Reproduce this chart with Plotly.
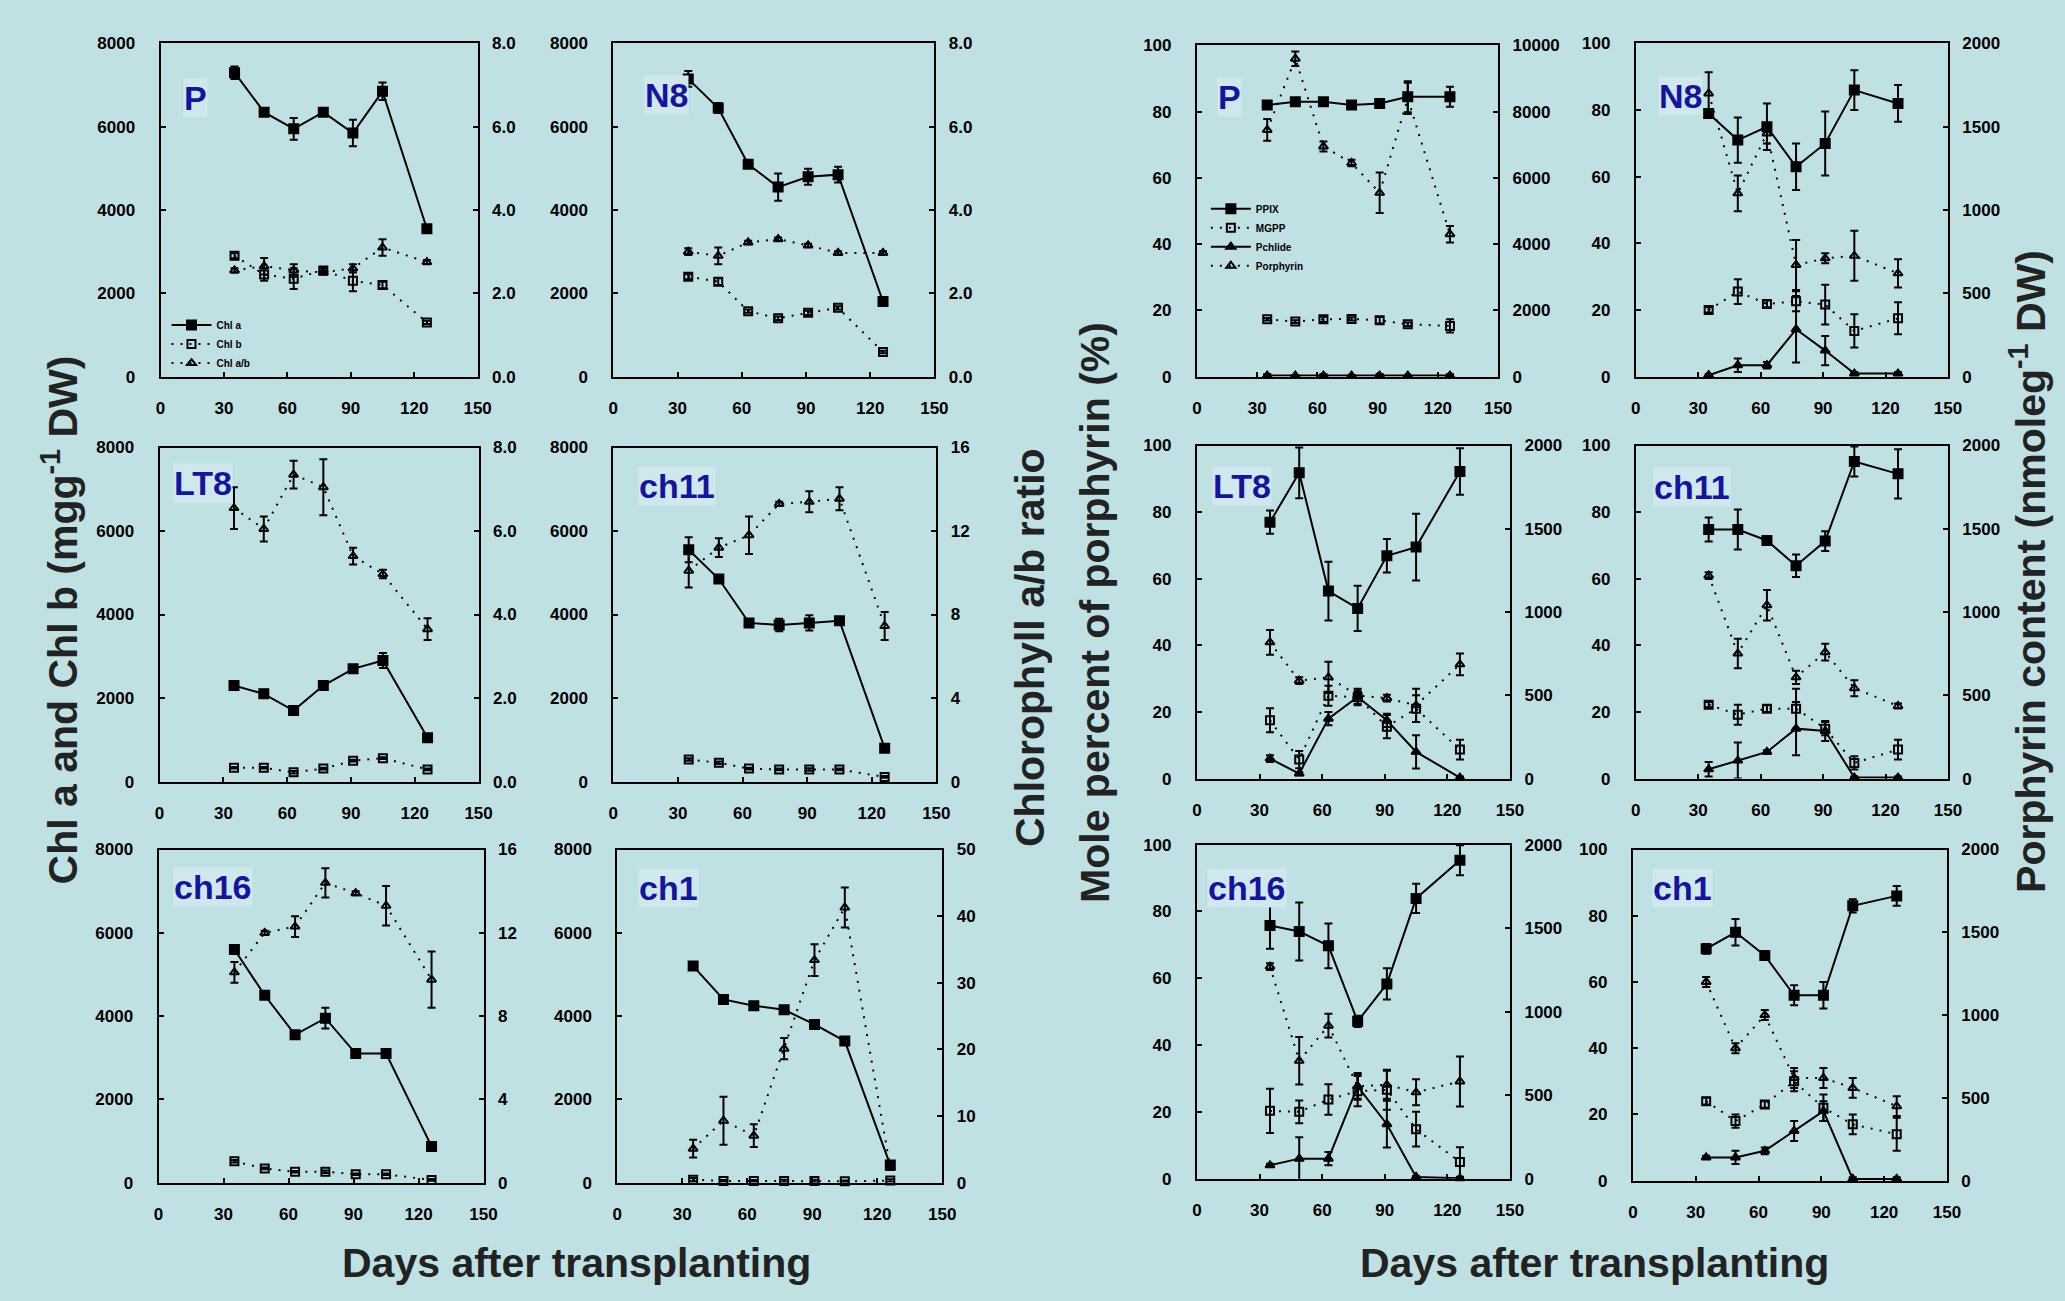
import plotly.graph_objects as go

W, H = 2065, 1301
BG = "#bfe1e4"
FONT = "Liberation Sans, Arial, sans-serif"

days = [35, 49, 63, 77, 91, 105, 126]
x_ticks = [0, 30, 60, 90, 120, 150]

# ---------- Chlorophyll panels (left group) ----------
P_chla = [7300, 6350, 5950, 6350, 5850, 6850, 3550]
P_chla_err = [150, 50, 260, 50, 320, 210, 50]
P_chlb = [2900, 2450, 2350, 2550, 2300, 2200, 1300]
P_chlb_err = [60, 150, 250, 60, 250, 80, 40]
P_ratio = [2.55, 2.65, 2.55, 2.5, 2.6, 3.1, 2.75]
P_ratio_err = [0.05, 0.2, 0.15, 0.05, 0.1, 0.2, 0.05]

N8_chla = [7150, 6450, 5100, 4550, 4800, 4850, 1800]
N8_chla_err = [190, 120, 50, 330, 190, 190, 60]
N8_chlb = [2400, 2280, 1570, 1400, 1530, 1650, 590]
N8_chlb_err = [60, 80, 40, 40, 50, 40, 30]
N8_ratio = [3.0, 2.9, 3.22, 3.3, 3.15, 2.97, 2.97]
N8_ratio_err = [0.08, 0.2, 0.04, 0.04, 0.04, 0.04, 0.04]

LT8_chla = [2300, 2100, 1700, 2300, 2700, 2900, 1050]
LT8_chla_err = [50, 100, 40, 50, 50, 180, 50]
LT8_chlb = [330, 330, 220, 310, 500, 560, 290]
LT8_chlb_err = [20, 20, 30, 20, 20, 20, 20]
LT8_ratio = [6.55, 6.05, 7.35, 7.05, 5.4, 4.97, 3.65]
LT8_ratio_err = [0.5, 0.3, 0.33, 0.67, 0.2, 0.1, 0.26]

ch11_chla = [5550, 4850, 3800, 3750, 3800, 3850, 800]
ch11_chla_err = [300, 80, 40, 150, 180, 50, 40]
ch11_chlb = [530, 450, 310, 290, 290, 290, 110]
ch11_chlb_err = [30, 30, 20, 20, 30, 20, 20]
ch11_ratio = [10.1, 11.2, 11.8, 13.3, 13.4, 13.55, 7.45]
ch11_ratio_err = [0.8, 0.45, 0.9, 0.1, 0.5, 0.55, 0.67]

ch16_chla = [5600, 4500, 3550, 3950, 3100, 3100, 870]
ch16_chla_err = [50, 50, 60, 250, 40, 40, 40]
ch16_chlb = [510, 340, 260, 260, 200, 200, 65]
ch16_chlb_err = [30, 20, 20, 30, 20, 20, 20]
ch16_ratio = [10.1, 12.0, 12.3, 14.4, 13.9, 13.3, 9.75]
ch16_ratio_err = [0.5, 0.1, 0.5, 0.7, 0.1, 0.95, 1.35]

ch1_chla = [5200, 4400, 4250, 4150, 3800, 3400, 420]
ch1_chla_err = [40, 50, 50, 80, 80, 50, 80]
ch1_chlb = [70, 40, 40, 40, 40, 30, 50]
ch1_chlb_err = [40, 20, 20, 30, 30, 20, 30]
ch1_ratio = [5.1, 9.3, 7.05, 20.1, 33.4, 41.3, 2.2]
ch1_ratio_err = [1.35, 3.6, 1.7, 1.6, 2.4, 3.0, 0.3]

# ---------- Porphyrin panels (right group) ----------
P_ppix = [82, 83, 83, 82, 82.5, 84.5, 84.5]
P_ppix_err = [0.5, 0.5, 1, 0.5, 1, 4.7, 3]
P_mgpp = [17.3, 16.6, 17.3, 17.4, 17.0, 15.8, 15.3]
P_mgpp_err = [0.4, 0.4, 0.8, 0.5, 1, 0.5, 2]
P_pchl = [0.3, 0.3, 0.3, 0.3, 0.3, 0.3, 0.3]
P_pchl_err = [0.5, 0.2, 0.5, 0.2, 0.5, 0.2, 0.5]
P_porph = [7450, 9600, 6950, 6450, 5550, 8400, 4300]
P_porph_err = [330, 220, 150, 100, 610, 470, 250]

N8_ppix = [79, 71, 75, 63, 70, 86, 82]
N8_ppix_err = [1, 6.8, 7, 7, 9.6, 6, 5.5]
N8_mgpp = [20, 25.5, 21.8, 22.6, 21.6, 13.7, 17.5]
N8_mgpp_err = [0.8, 3.7, 1, 3, 6, 5, 4.8]
N8_pchl = [0.4, 3.4, 3.4, 14.2, 7.8, 0.9, 0.9]
N8_pchl_err = [0.3, 2, 1, 10, 4.4, 0.5, 0.5]
N8_porph = [1700, 1100, 1460, 670, 710, 725, 620]
N8_porph_err = [128, 107, 60, 150, 30, 150, 85]

LT8_ppix = [77, 91.8, 56.3, 51.1, 66.9, 69.5, 92.2]
LT8_ppix_err = [3.5, 7.6, 8.8, 6.8, 5, 10, 7]
LT8_mgpp = [17.5, 5.7, 24.9, 24.4, 15.6, 21, 8.7]
LT8_mgpp_err = [3.6, 2.6, 3, 2, 3.5, 4, 3]
LT8_pchl = [6, 1.5, 18, 24.5, 17.5, 8, 0.3]
LT8_pchl_err = [1, 0.5, 2, 2.5, 2, 5, 0.3]
LT8_porph = [818, 588, 608, 499, 483, 440, 686]
LT8_porph_err = [74, 20, 94, 20, 20, 100, 65]

ch11_ppix = [74.8, 74.8, 71.5, 63.9, 71.3, 95.2, 91.5]
ch11_ppix_err = [3.6, 6, 1, 3.4, 3, 4.5, 7.4]
ch11_mgpp = [22.2, 19.2, 21, 21, 15, 4.7, 8.7]
ch11_mgpp_err = [0.8, 3, 1, 6, 2, 2, 3]
ch11_pchl = [2.8, 5.4, 8, 15, 14.3, 0.3, 0.3]
ch11_pchl_err = [2.2, 5.4, 0.5, 8, 3, 0.3, 0.3]
ch11_porph = [1219, 751, 1041, 608, 759, 543, 436]
ch11_porph_err = [20, 89, 92, 40, 50, 48, 15]

ch16_ppix = [75.8, 74, 69.7, 47.1, 58.3, 83.9, 95.3]
ch16_ppix_err = [7, 8.7, 6.7, 1.7, 4.7, 4.4, 4.5]
ch16_mgpp = [20.3, 20, 23.7, 26.2, 26.6, 14.8, 5]
ch16_mgpp_err = [6.6, 3.4, 4.6, 4.5, 6, 5.2, 4.4]
ch16_pchl = [4, 6, 6, 27.6, 16.3, 0.5, 0.1]
ch16_pchl_err = [0.5, 6.4, 2, 3.7, 7, 0.3, 0.2]
ch16_porph = [1270, 706, 916, 553, 562, 517, 582]
ch16_porph_err = [20, 142, 71, 80, 84, 78, 150]

ch1_ppix = [70, 75, 68, 56, 56, 83, 86]
ch1_ppix_err = [1.5, 4, 1, 3, 4, 2, 3]
ch1_mgpp = [24, 18, 23, 30, 22, 17, 14]
ch1_mgpp_err = [1, 2, 1, 3, 4, 3, 5]
ch1_pchl = [7, 7, 9, 15, 21, 0.5, 0.5]
ch1_pchl_err = [0.5, 2, 1, 3, 3, 0.5, 0.5]
ch1_porph = [1200, 800, 1000, 620, 620, 560, 450]
ch1_porph_err = [30, 30, 30, 60, 60, 60, 60]

chl_names = ["Chl a", "Chl b", "Chl a/b"]
por_names = ["PPIX", "MGPP", "Pchlide", "Porphyrin"]

ratio8_vals = [0, 2, 4, 6, 8]
ratio8_text = ["0.0", "2.0", "4.0", "6.0", "8.0"]
ratio16_vals = [0, 4, 8, 12, 16]
ratio50_vals = [0, 10, 20, 30, 40, 50]
chl_left_vals = [0, 2000, 4000, 6000, 8000]
mol_vals = [0, 20, 40, 60, 80, 100]
cont10k_vals = [0, 2000, 4000, 6000, 8000, 10000]
cont2k_vals = [0, 500, 1000, 1500, 2000]

# panel table: label, box (x0, x1, y0, y1 in px), label offset, kind, series, right axis
panels = [
    ("P", (157, 477, 35, 373), (23, 55), "chl",
     [(P_chla, P_chla_err), (P_chlb, P_chlb_err), (P_ratio, P_ratio_err)], (8, ratio8_vals, ratio8_text)),
    ("N8", (614, 938, 35, 373), (31, 52), "chl",
     [(N8_chla, N8_chla_err), (N8_chlb, N8_chlb_err), (N8_ratio, N8_ratio_err)], (8, ratio8_vals, ratio8_text)),
    ("LT8", (156, 478, 445, 784), (14, 36), "chl",
     [(LT8_chla, LT8_chla_err), (LT8_chlb, LT8_chlb_err), (LT8_ratio, LT8_ratio_err)], (8, ratio8_vals, ratio8_text)),
    ("ch11", (614, 940, 445, 784), (25, 39), "chl",
     [(ch11_chla, ch11_chla_err), (ch11_chlb, ch11_chlb_err), (ch11_ratio, ch11_ratio_err)], (16, ratio16_vals, None)),
    ("ch16", (155, 483, 853, 1191), (15, 38), "chl",
     [(ch16_chla, ch16_chla_err), (ch16_chlb, ch16_chlb_err), (ch16_ratio, ch16_ratio_err)], (16, ratio16_vals, None)),
    ("ch1", (618, 946, 853, 1191), (21, 39), "chl",
     [(ch1_chla, ch1_chla_err), (ch1_chlb, ch1_chlb_err), (ch1_ratio, ch1_ratio_err)], (50, ratio50_vals, None)),
    ("P", (1203, 1507, 37, 373), (20, 52), "por",
     [(P_ppix, P_ppix_err), (P_mgpp, P_mgpp_err), (P_pchl, P_pchl_err), (P_porph, P_porph_err)], (10000, cont10k_vals, None)),
    ("N8", (1646, 1961, 35, 373), (22, 53), "por",
     [(N8_ppix, N8_ppix_err), (N8_mgpp, N8_mgpp_err), (N8_pchl, N8_pchl_err), (N8_porph, N8_porph_err)], (2000, cont2k_vals, None)),
    ("LT8", (1203, 1519, 443, 781), (15, 41), "por",
     [(LT8_ppix, LT8_ppix_err), (LT8_mgpp, LT8_mgpp_err), (LT8_pchl, LT8_pchl_err), (LT8_porph, LT8_porph_err)], (2000, cont2k_vals, None)),
    ("ch11", (1646, 1961, 443, 781), (17, 42), "por",
     [(ch11_ppix, ch11_ppix_err), (ch11_mgpp, ch11_mgpp_err), (ch11_pchl, ch11_pchl_err), (ch11_porph, ch11_porph_err)], (2000, cont2k_vals, None)),
    ("ch16", (1203, 1519, 848, 1187), (10, 44), "por",
     [(ch16_ppix, ch16_ppix_err), (ch16_mgpp, ch16_mgpp_err), (ch16_pchl, ch16_pchl_err), (ch16_porph, ch16_porph_err)], (2000, cont2k_vals, None)),
    ("ch1", (1643, 1960, 853, 1189), (19, 39), "por",
     [(ch1_ppix, ch1_ppix_err), (ch1_mgpp, ch1_mgpp_err), (ch1_pchl, ch1_pchl_err), (ch1_porph, ch1_porph_err)], (2000, cont2k_vals, None)),
]

DOT = "2px,7px"
styles_chl = [
    dict(dash="solid", symbol="square", size=9, right=False),
    dict(dash=DOT, symbol="square-open", size=8, right=False),
    dict(dash=DOT, symbol="triangle-up-open", size=8, right=True),
]
styles_por = [
    dict(dash="solid", symbol="square", size=9, right=False),
    dict(dash=DOT, symbol="square-open", size=8, right=False),
    dict(dash="solid", symbol="triangle-up", size=8, right=False),
    dict(dash=DOT, symbol="triangle-up-open", size=8, right=True),
]

tickfont = dict(family=FONT, size=17, color="black", weight="bold")
axis_common = dict(showline=True, linecolor="black", linewidth=2, ticks="inside",
                   ticklen=5, tickwidth=2, tickcolor="black", showgrid=False,
                   zeroline=False, tickfont=tickfont)

fig = go.Figure()
layout = {}
annotations = []

for i, (label, box, loff, kind, series, rax) in enumerate(panels, start=1):
    x0, x1, y0, y1 = box
    xname = "x" if i == 1 else f"x{i}"
    yl = "y" if i == 1 else f"y{i}"
    yr = f"y{i + 12}"
    xd = [x0 / W, x1 / W]
    yd = [1 - y1 / H, 1 - y0 / H]
    layout["xaxis" if i == 1 else f"xaxis{i}"] = dict(
        axis_common, domain=xd, anchor=yl, range=[0, 150], tickvals=x_ticks,
        mirror=True, ticklabelstandoff=15)
    if kind == "chl":
        lvals, lmax = chl_left_vals, 8000
    else:
        lvals, lmax = mol_vals, 100
    layout["yaxis" if i == 1 else f"yaxis{i}"] = dict(
        axis_common, domain=yd, anchor=xname, range=[0, lmax], tickvals=lvals,
        ticklabelstandoff=20)
    rmax, rvals, rtext = rax
    if rtext is None:
        rtext = [str(v) for v in rvals]
    layout[f"yaxis{i + 12}"] = dict(
        axis_common, anchor=xname, overlaying=yl, side="right",
        range=[0, rmax], tickvals=rvals, ticktext=rtext, ticklabelstandoff=9)

    styles = styles_chl if kind == "chl" else styles_por
    names = chl_names if kind == "chl" else por_names
    legend_id = "legend" if kind == "chl" else "legend2"
    show = (label == "P")
    for (vals, errs), st, nm in zip(series, styles, names):
        fig.add_trace(go.Scatter(
            x=days, y=vals, name=nm, mode="lines+markers",
            xaxis=xname, yaxis=(yr if st["right"] else yl),
            line=dict(color="black", width=2, dash=st["dash"]),
            marker=dict(symbol=st["symbol"], size=st["size"], color="black",
                        line=dict(color="black", width=2)),
            error_y=dict(type="data", array=errs, visible=True, color="black",
                         thickness=2, width=4),
            cliponaxis=False, showlegend=show, legend=legend_id,
        ))
    annotations.append(dict(
        text=label, xref="paper", yref="paper", x=(x0 + loff[0]) / W,
        y=1 - (y0 + loff[1]) / H, xanchor="left", yanchor="middle", showarrow=False,
        font=dict(family=FONT, size=34, color="#1414a0", weight="bold"),
        bgcolor="#cfe8ee", borderpad=0))

title_font = dict(family=FONT, size=41, color="#222222", weight="bold")
titles = [
    ("Chl a and Chl b (mgg<sup>-1</sup> DW)", 55, 620, -90),
    ("Chlorophyll a/b ratio", 1034, 648, -90),
    ("Mole percent of porphyrin (%)", 1100, 612, -90),
    ("Porphyrin content (nmoleg<sup>-1</sup> DW)", 2041, 571, -90),
    ("Days after transplanting", 577, 1273, 0),
    ("Days after transplanting", 1604, 1273, 0),
]
for txt, tx, ty, ang in titles:
    annotations.append(dict(text=txt, xref="paper", yref="paper", x=tx / W,
                            y=1 - ty / H, xanchor="center", yanchor="middle",
                            textangle=ang, showarrow=False, font=title_font))

legend_font = dict(family=FONT, size=10, color="black", weight="bold")
fig.update_layout(
    width=W, height=H, margin=dict(l=0, r=0, t=0, b=0),
    paper_bgcolor=BG, plot_bgcolor=BG,
    annotations=annotations,
    legend=dict(x=163 / W, y=1 - 306 / H, xanchor="left", yanchor="top",
                bgcolor="rgba(0,0,0,0)", font=legend_font, itemwidth=40,
                tracegroupgap=0),
    legend2=dict(x=1212 / W, y=1 - 188 / H, xanchor="left", yanchor="top",
                 bgcolor="rgba(0,0,0,0)", font=legend_font, itemwidth=40,
                 tracegroupgap=0),
    **layout,
)

fig.write_html("out.html",
               config={"displayModeBar": False},
               post_script="document.body.style.margin='0';"
                           "document.body.style.overflow='hidden';")
